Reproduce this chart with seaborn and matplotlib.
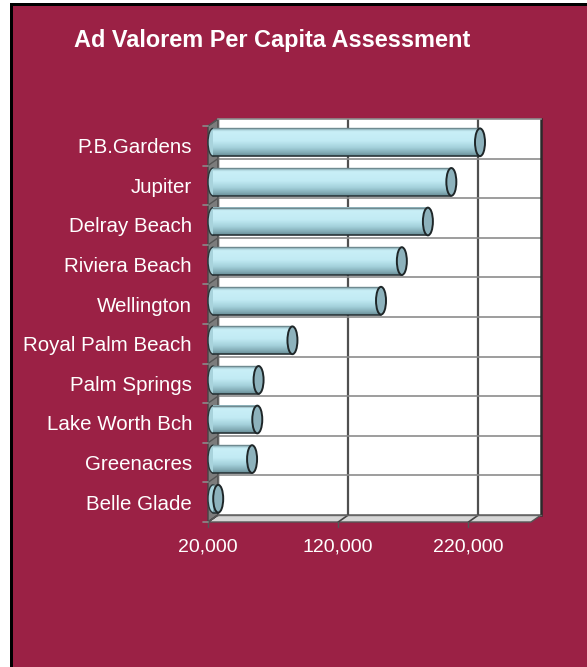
import numpy as np
import pandas as pd
import matplotlib
matplotlib.use("Agg")
import matplotlib.pyplot as plt
import seaborn as sns
from matplotlib.patches import Rectangle, Polygon, Ellipse
from matplotlib.transforms import ScaledTranslation, IdentityTransform
from matplotlib.colors import LinearSegmentedColormap

# ---------------- data ----------------
cities = ["P.B.Gardens", "Jupiter", "Delray Beach", "Riviera Beach", "Wellington",
          "Royal Palm Beach", "Palm Springs", "Lake Worth Bch", "Greenacres", "Belle Glade"]
assessment = [225000, 203000, 185000, 165000, 149000, 81000, 55000, 54000, 50000, 24000]
x_ticks = [20000, 120000, 220000]
x_tick_labels = ["20,000", "120,000", "220,000"]
x_min, x_max = 20000, 268000
title = "Ad Valorem Per Capita Assessment"

# ---------------- style ----------------
W, H = 587, 667
MAROON = "#9b2145"
EDGE = "#2a3538"

sns.set_theme(style="white")
plt.rcParams["font.family"] = ["Liberation Sans", "DejaVu Sans"]

fig = plt.figure(figsize=(W / 100, H / 100), dpi=100, facecolor=MAROON)

# frame: white margin + black border on left / top
fig.patches.append(Rectangle((0, 0), 10 / W, 1, transform=fig.transFigure,
                             facecolor="white", edgecolor="none", zorder=-5))
fig.patches.append(Rectangle((0, 1 - 3 / H), 1, 3 / H, transform=fig.transFigure,
                             facecolor="white", edgecolor="none", zorder=-5))
fig.patches.append(Rectangle((10 / W, 0), 3 / W, 1 - 3 / H, transform=fig.transFigure,
                             facecolor="black", edgecolor="none", zorder=-4))
fig.patches.append(Rectangle((10 / W, 1 - 6 / H), 1 - 10 / W, 3 / H, transform=fig.transFigure,
                             facecolor="black", edgecolor="none", zorder=-4))

# back wall = axes
ax = fig.add_axes([218 / W, 1 - 515 / H, (541 - 218) / W, (515 - 119) / H])
ax.set_facecolor("white")

df = pd.DataFrame({"city": cities, "value": assessment})
sns.barplot(data=df, x="value", y="city", orient="h", color="#bfe9f2",
            width=0.7, saturation=1, ax=ax)
bars = list(ax.patches)

n = len(cities)
ax.set_xlim(x_min, x_max)
ax.set_ylim(n - 0.5, -0.5)
ax.set_xlabel("")
ax.set_ylabel("")
ax.set_xticks(x_ticks)
ax.set_yticks(np.arange(0.5, n - 1, 1), minor=True)
ax.tick_params(which="both", labelleft=False, labelbottom=False, length=0)
ax.set_axisbelow(True)
ax.grid(True, axis="x", which="major", color="#505050", lw=1.6)
ax.grid(True, axis="y", which="minor", color="#8c8c8c", lw=1.2)
ax.grid(False, axis="y", which="major")
for side, c, lw in [("left", "#666666", 1.0), ("top", "#8c8c8c", 1.2),
                    ("right", "#2a2a2a", 1.8), ("bottom", "#666666", 1.0)]:
    ax.spines[side].set_color(c)
    ax.spines[side].set_linewidth(lw)
    ax.spines[side].set_visible(True)

dpi = fig.dpi
mid = ax.transData + ScaledTranslation(-5 / dpi, -3.5 / dpi, fig.dpi_scale_trans)
DX, DY = -10, -7


def back(x, y):
    return ax.transData.transform((x, y))


def front(x, y):
    b = back(x, y)
    return (b[0] + DX, b[1] + DY)


# floor and left wall
yb = n - 0.5
floor = [back(x_min, yb), back(x_max, yb), front(x_max, yb), front(x_min, yb)]
ax.add_patch(Polygon(floor, closed=True, transform=IdentityTransform(),
                     facecolor="#d6d6d6", edgecolor="#555555", lw=1.0, clip_on=False, zorder=1))
wall = [back(x_min, -0.5), back(x_min, yb), front(x_min, yb), front(x_min, -0.5)]
ax.add_patch(Polygon(wall, closed=True, transform=IdentityTransform(),
                     facecolor="#7c7c7c", edgecolor="#444444", lw=1.0, clip_on=False, zorder=1))

idt = IdentityTransform()
for t in x_ticks:
    b, f = back(t, yb), front(t, yb)
    ax.plot([b[0], f[0]], [b[1], f[1]], transform=idt, color="#444444", lw=1.2, clip_on=False, zorder=1.5)
    ax.plot([f[0], f[0]], [f[1], f[1] - 5], transform=idt, color="#555555", lw=1.0, clip_on=False, zorder=1.5)
for yy in np.arange(-0.5, n, 1):
    b, f = back(x_min, yy), front(x_min, yy)
    ax.plot([b[0], f[0]], [b[1], f[1]], transform=idt, color="#555555", lw=1.0, clip_on=False, zorder=1.5)
    ax.plot([f[0] - 5, f[0]], [f[1], f[1]], transform=idt, color="#8a8a8a", lw=1.2, clip_on=False, zorder=1.5)

# cylinders
cyl = LinearSegmentedColormap.from_list("cyl", [
    (0.0, "#8fb4bc"), (0.12, "#c9eff7"), (0.45, "#c2ebf4"),
    (0.7, "#a4d1db"), (0.88, "#84adb7"), (1.0, "#688d96")])
grad = np.linspace(0, 1, 64).reshape(-1, 1)
px_per_x = (back(x_max, 0)[0] - back(x_min, 0)[0]) / (x_max - x_min)
cap_w = 10 / px_per_x

for p in bars:
    v = p.get_width()
    y0 = p.get_y()
    h = p.get_height()
    yc = y0 + h / 2
    p.set_x(x_min)
    p.set_width(v - x_min)
    p.set_transform(mid)
    p.set_facecolor("none")
    p.set_edgecolor("none")
    p.set_clip_on(False)
    ax.add_patch(Ellipse((x_min, yc), cap_w, h, transform=mid, facecolor="#a8d3dc",
                         edgecolor=EDGE, lw=1.0, clip_on=False, zorder=2))
    ax.imshow(grad, cmap=cyl, aspect="auto", extent=(x_min, v, y0 + h, y0),
              origin="upper", transform=mid, zorder=3, interpolation="bilinear", clip_on=False)
    ax.plot([x_min, v], [y0, y0], transform=mid, color="#6f8a90", lw=1.0, clip_on=False, zorder=4)
    ax.plot([x_min, v], [y0 + h, y0 + h], transform=mid, color=EDGE, lw=1.2, clip_on=False, zorder=4)
    ax.add_patch(Ellipse((v, yc), cap_w, h, transform=mid, facecolor="#8db2bc",
                         edgecolor="#1e2628", lw=1.4, clip_on=False, zorder=5))

ax.set_xlim(x_min, x_max)
ax.set_ylim(n - 0.5, -0.5)

# texts
inv = fig.transFigure.inverted()
fig.text(272 / W, 1 - 47 / H, title, ha="center", va="baseline", color="white",
         fontsize=16.9, fontweight="bold")
for i, name in enumerate(cities):
    f = front(x_min, i)
    pos = inv.transform((f[0] - 16, f[1] - 7.4))
    fig.text(pos[0], pos[1], name, ha="right", va="baseline", color="white", fontsize=14.8)
for t, lab in zip(x_ticks, x_tick_labels):
    f = front(t, yb)
    pos = inv.transform((f[0], f[1] - 30))
    fig.text(pos[0], pos[1], lab, ha="center", va="baseline", color="white", fontsize=14)

fig.savefig("out.png", dpi=100, facecolor=MAROON)
